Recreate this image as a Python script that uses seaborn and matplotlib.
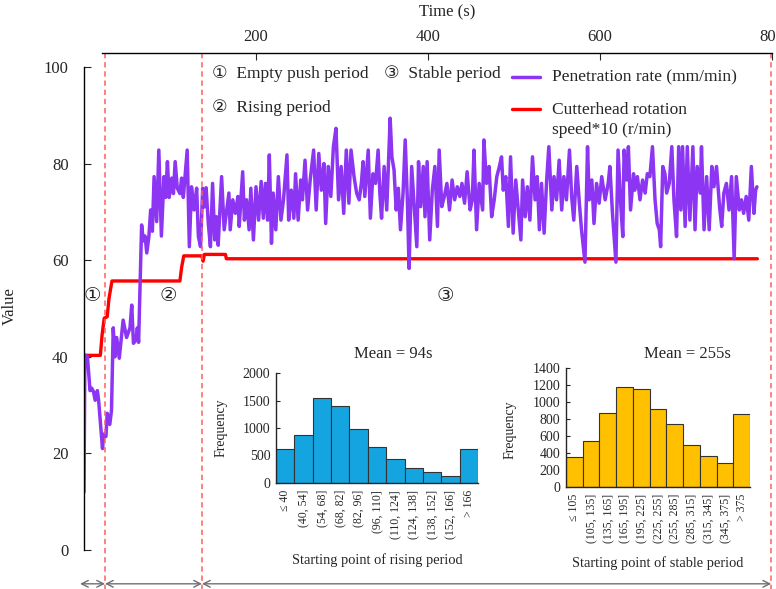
import matplotlib
matplotlib.use("Agg")
import matplotlib.pyplot as plt
from matplotlib.lines import Line2D
import seaborn as sns

# Penetration rate (mm/min) over time (s)
time_rate = [
    0, 1, 4, 7, 9, 11, 13, 15.5, 17, 19.5, 21.5, 23, 25.5, 27, 30, 32,
    34, 36, 38, 41, 45.5, 49.5, 53.5, 55.5, 57.5, 60.5, 62, 63.5,
    67, 69, 71, 73, 75.5, 77.5, 79.5, 81.5, 84.5, 87, 90, 93, 95, 97, 99, 102,
    104, 106, 108.5, 111.5, 113.5, 115.5, 117.5, 120, 122.5, 125, 128, 131, 133, 135.5, 138, 139.5,
    142, 144.5, 147, 149.5,
    152, 154, 156, 160, 163, 166, 168.5, 170, 173, 176, 179, 180.5, 184.5, 186.5, 189, 192,
    194, 197, 200, 203, 206, 208.5, 211, 213.5, 215.5, 218, 220, 223, 226, 229, 232, 236,
    238, 241, 244, 246, 249, 252, 254, 257, 260, 263, 267, 270, 273, 276, 279, 281,
    284, 287, 290, 293, 296, 299, 302, 305, 308, 310.5,
    314, 317, 320, 322.5, 324.5, 326.5, 330.5, 333, 336, 339, 342, 344, 346, 349, 352, 356,
    358, 360.5, 363, 365.5, 368, 371, 373.5, 376, 378, 381, 384, 387, 389, 391.5, 394.5, 396.5,
    399, 402, 405, 408, 411, 413, 416, 419, 422, 425, 428, 431, 434, 437, 439.5, 442.5,
    445.5, 449, 451.5, 453.5, 456.5, 459.5,
    463.5, 465, 468, 471, 474, 477, 480, 483, 485.5, 487.5, 490.5, 493.5, 496, 499, 502, 505,
    508, 510, 513, 515.5, 518.5, 521.5, 524.5, 527, 529.5, 532, 535, 538, 540.5, 544, 546.5, 549.5,
    552.5, 555.5, 558, 561, 564.5, 567, 569.5, 573, 576, 578.5, 582.5, 585.5, 587.5, 590.5, 593, 596,
    599, 602, 606, 609.5,
    611.5, 614.5, 618.5, 621, 624, 626.5, 628, 631, 633, 635.5, 639, 640.5, 643.5, 646.5, 649.5, 652.5,
    655, 658, 661, 664, 666.5, 669, 670.5, 673, 675.5, 677.5, 680.5, 683.5, 686, 689, 691.5, 694,
    696, 699, 701.5, 704.5, 708, 710.5, 713, 716.5, 718, 721, 724, 727, 730, 732.5, 735.5, 739,
    741.5, 744, 747, 750, 753, 756, 758.5, 762, 764.5, 767, 770, 773, 776, 779, 781, 782.5,
]
penetration_rate = [
    12.0, 40.4, 40.0, 33.0, 33.5, 32.8, 31.0, 33.0, 31.0, 25.5, 21.0, 24.0, 23.5, 28.3, 26.0, 29.0,
    46.0, 40.0, 44.0, 39.7, 47.6, 44.0, 46.0, 50.7, 42.8, 43.5, 46.0, 43.0,
    67.3, 64.0, 65.0, 61.5, 65.0, 70.4, 66.0, 77.3, 68.0, 82.8, 65.0, 77.3, 73.0, 80.4, 73.0, 77.0,
    73.8, 80.4, 74.9, 73.8, 77.0, 73.0, 77.3, 82.8, 62.8, 75.2, 70.4, 74.9, 64.9, 62.8, 74.9, 71.0,
    75.0, 67.7, 62.8, 75.9,
    64.2, 69.0, 63.1, 77.3, 66.3, 70.4, 73.9, 66.3, 72.5, 69.7, 73.2, 67.0, 78.3, 68.3, 72.5, 66.3,
    74.9, 64.2, 75.2, 68.3, 76.3, 68.7, 75.9, 68.3, 81.8, 63.5, 73.9, 66.3, 77.3, 68.3, 72.5, 81.8,
    68.3, 74.5, 68.7, 77.9, 68.3, 76.6, 72.5, 80.7, 70.4, 76.6, 82.8, 70.4, 82.1, 74.5, 80.0, 67.6,
    79.4, 73.2, 83.5, 87.3, 72.5, 79.4, 69.7, 82.8, 71.8, 82.8,
    77.3, 73.9, 72.5, 75.9, 80.4, 73.2, 82.8, 68.7, 77.9, 75.9, 82.8, 73.9, 68.7, 79.4, 70.4, 89.4,
    81.4, 78.7, 70.4, 74.9, 66.3, 73.9, 84.9, 72.5, 58.3, 79.4, 71.1, 62.8, 80.4, 71.1, 79.4, 69.0,
    80.4, 64.2, 74.5, 79.4, 67.0, 82.8, 71.1, 73.2, 75.9, 70.4, 76.6, 72.5, 75.2, 73.2, 75.9, 71.8,
    78.3, 70.4, 72.5, 82.8, 66.3, 75.9,
    70.4, 84.9, 75.9, 79.4, 69.0, 72.5, 77.3, 79.4, 81.4, 74.5, 77.3, 67.0, 81.4, 65.6, 76.6, 70.4,
    64.2, 76.6, 69.0, 75.2, 68.3, 81.4, 72.5, 77.3, 66.3, 75.9, 65.6, 76.6, 83.5, 70.4, 77.3, 72.5,
    80.7, 70.4, 77.3, 72.5, 82.8, 73.2, 68.3, 79.4, 71.8, 66.3, 59.6, 83.5, 72.5, 76.6, 67.6, 75.9,
    71.8, 77.3, 72.5, 75.9,
    79.4, 69.7, 59.6, 82.8, 71.8, 64.9, 82.8, 76.6, 83.5, 70.4, 77.9, 74.5, 77.3, 72.5, 76.6, 73.9,
    77.9, 77.3, 83.5, 72.5, 67.6, 66.3, 62.8, 79.4, 77.9, 73.9, 75.9, 83.5, 72.5, 64.9, 83.5, 70.4,
    83.5, 67.0, 83.5, 68.3, 83.5, 66.3, 79.4, 73.9, 83.5, 66.3, 77.3, 66.3, 79.4, 75.2, 79.4, 71.1,
    67.0, 73.9, 75.9, 70.4, 77.3, 60.3, 77.3, 70.4, 72.5, 69.7, 73.2, 68.3, 79.4, 69.7, 74.5, 75.2,
]

# Cutterhead rotation speed x10 (r/min)
time_speed = [0, 19, 21, 23.5, 27, 29, 32.5, 111.5, 113.5, 116, 137, 138.5, 140, 164.5, 165.5, 783]
cutterhead_speed_x10 = [40.3, 40.3, 44.5, 48.0, 48.3, 52.0, 55.7, 55.7, 58.5, 60.9, 60.9, 59.8,
                        61.2, 61.2, 60.3, 60.3]

# Period boundaries (s)
period_bounds = [24.4, 137.2, 799]
period_marks = ["①", "②", "③"]
period_mark_x = [9.3, 97.7, 420]

# Histograms of the starting points of the rising and stable periods
rising_bins = ["≤ 40", "(40, 54]", "(54, 68]", "(68, 82]", "(82, 96]", "(96, 110]",
               "(110, 124]", "(124, 138]", "(138, 152]", "(152, 166]", "> 166"]
rising_freq = [620, 880, 1540, 1400, 985, 660, 440, 265, 200, 120, 625]
stable_bins = ["≤ 105", "(105, 135]", "(135, 165]", "(165, 195]", "(195, 225]", "(225, 255]",
               "(255, 285]", "(285, 315]", "(315, 345]", "(345, 375]", "> 375"]
stable_freq = [355, 540, 875, 1180, 1155, 920, 740, 490, 365, 278, 860]

assert len(time_rate) == len(penetration_rate)

sns.set_style("ticks")
plt.rcParams["font.family"] = ["Liberation Serif", "DejaVu Sans"]

PURPLE = "#8C35F2"
RED = "#FF0000"
DASH = "#FF6060"

W, H = 776, 589
fig = plt.figure(figsize=(W / 100, H / 100), dpi=100)


def box(x0, y0, x1, y1):
    return [x0 / W, 1 - y1 / H, (x1 - x0) / W, (y1 - y0) / H]


def fx(px):
    return px / W


def fy(py):
    return 1 - py / H


ax = fig.add_axes(box(84, 53, 772, 550))
sns.lineplot(x=time_speed, y=cutterhead_speed_x10, ax=ax, color=RED, lw=2.4,
             estimator=None, sort=False)
sns.lineplot(x=time_rate, y=penetration_rate, ax=ax, color=PURPLE, lw=2.5,
             estimator=None, sort=False)
ax.set_xlim(0, 800)
ax.set_ylim(0, 102.9)

for s in ("right", "bottom"):
    ax.spines[s].set_visible(False)
ax.spines["left"].set_bounds(0, 100)
ax.spines["top"].set_bounds(21, 800)
for s in ("left", "top"):
    ax.spines[s].set_linewidth(1.0)
    ax.spines[s].set_color("black")

ax.xaxis.tick_top()
ax.set_xticks([200, 400, 600, 800])
ax.set_yticks([0, 20, 40, 60, 80, 100])
ax.tick_params(axis="x", direction="in", length=5, labelsize=12, pad=6, top=True, bottom=False)
ax.tick_params(axis="y", direction="in", length=5, labelsize=12, pad=11)
ax.set_xlabel("")
ax.set_ylabel("Value", fontsize=12)
ax.yaxis.set_label_coords(-0.096, 0.49)
fig.text(fx(447), fy(12), "Time (s)", ha="center", va="center", fontsize=12)

# Period boundaries and spans
for b in period_bounds:
    ax.vlines(b, -8.5, 102.9, colors=DASH, lw=1.1, linestyles=(0, (3.5, 2.5)), clip_on=False)
starts = [-4.6] + period_bounds[:-1]
for a, b in zip(starts, period_bounds):
    ax.annotate("", xy=(a, -7.0), xytext=(b, -7.0), annotation_clip=False,
                arrowprops=dict(arrowstyle="<->", color="#707070", lw=1.0,
                                shrinkA=0, shrinkB=0, mutation_scale=12))
for m, x in zip(period_marks, period_mark_x):
    ax.text(x, 52.4, m, ha="center", va="center", fontsize=14)

# Key
fig.text(fx(212), fy(74), "①  Empty push period", ha="left", va="center", fontsize=12.5)
fig.text(fx(212), fy(108), "②  Rising period", ha="left", va="center", fontsize=12.5)
fig.text(fx(384), fy(74), "③  Stable period", ha="left", va="center", fontsize=12.5)
fig.add_artist(Line2D([fx(512), fx(540)], [fy(77), fy(77)], color=PURPLE, lw=2.5))
fig.add_artist(Line2D([fx(512), fx(540)], [fy(109), fy(109)], color=RED, lw=2.4))
fig.text(fx(552), fy(77), "Penetration rate (mm/min)", ha="left", va="center", fontsize=12.5)
fig.text(fx(552), fy(120), "Cutterhead rotation\nspeed*10 (r/min)", ha="left", va="center",
         fontsize=12.5, linespacing=1.25)


def histogram(rect, labels, values, color, ymax, step, title, title_xy, xlabel, xlabel_px,
              ylabel_px):
    h = fig.add_axes(box(*rect))
    sns.barplot(x=labels, y=values, ax=h, color=color, width=1.0, edgecolor="#333333",
                linewidth=0.8, saturation=1)
    h.set_xlim(-0.5, len(labels) - 0.5)
    h.set_ylim(0, ymax)
    h.set_yticks(range(0, ymax + 1, step))
    for s in ("top", "right"):
        h.spines[s].set_visible(False)
    h.spines["left"].set_linewidth(1.0)
    h.spines["bottom"].set_linewidth(1.0)
    h.tick_params(axis="y", direction="in", length=3, labelsize=10, pad=4)
    h.tick_params(axis="x", length=0, labelsize=8.5, pad=5, labelrotation=90)
    h.set_xlabel("")
    h.set_ylabel("")
    fig.text(fx(title_xy[0]), fy(title_xy[1]), title, ha="center", va="center", fontsize=12)
    fig.text(fx(xlabel_px[0]), fy(xlabel_px[1]), xlabel, ha="center", va="center",
             fontsize=10.4)
    fig.text(fx(ylabel_px[0]), fy(ylabel_px[1]), "Frequency", ha="center", va="center",
             fontsize=10, rotation=90)
    return h


histogram((276, 373, 478, 483), rising_bins, rising_freq, "#14A5E1", 2000, 500,
          "Mean = 94s", (393, 354), "Starting point of rising period", (377, 560), (221, 428))
histogram((566, 368, 750, 487), stable_bins, stable_freq, "#FFC000", 1400, 200,
          "Mean = 255s", (687, 354), "Starting point of stable period", (658, 563), (510, 430))

fig.savefig("out.png", dpi=100)
